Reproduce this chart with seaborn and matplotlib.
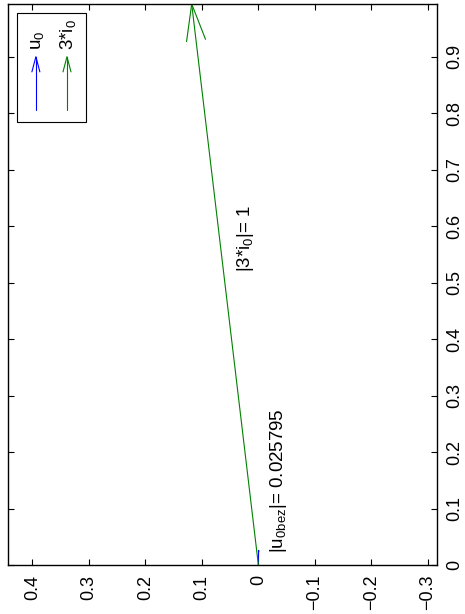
import numpy as np
import pandas as pd
import seaborn as sns
import matplotlib.pyplot as plt
from matplotlib.patches import Rectangle

# phasors (real part, imag part) - plot is printed rotated, real axis runs up
u0_vec = [0.0258, -0.0004]
i0_vec = [0.993, 0.118]
u0_abs = 0.025795
i0_abs = 1
names = ['u$_0$', '3*i$_0$']
colors = ['#0000ff', '#008000']

real_ticks = [0, 0.1, 0.2, 0.3, 0.4, 0.5, 0.6, 0.7, 0.8, 0.9]
imag_ticks = [0.4, 0.3, 0.2, 0.1, 0, -0.1, -0.2, -0.3]

sns.set_theme(style='ticks')
plt.rcParams['font.family'] = ['Liberation Sans', 'DejaVu Sans']
plt.rcParams['mathtext.fontset'] = 'custom'
plt.rcParams['mathtext.rm'] = 'Liberation Sans'
plt.rcParams['mathtext.it'] = 'Liberation Sans:italic'
plt.rcParams['mathtext.default'] = 'regular'

fig = plt.figure(figsize=(4.65, 6.14), dpi=100, facecolor='white')
ax = fig.add_axes([0.0172, 0.0798, 0.9226, 0.9137])

# quiver-like arrow, head scaled by vector length
alpha, beta = 0.065, 0.26
def arrow(vec, color):
    u, v = vec
    sns.lineplot(x=[0, v], y=[0, u], color=color, lw=0.8, ax=ax,
                 sort=False, estimator=None)
    hu = [u - alpha * (u + beta * v), u, u - alpha * (u - beta * v)]
    hv = [v - alpha * (v - beta * u), v, v - alpha * (v + beta * u)]
    sns.lineplot(x=hv, y=hu, color=color, lw=0.8, ax=ax,
                 sort=False, estimator=None)

arrow(u0_vec, colors[0])
arrow(i0_vec, colors[1])

ax.text(0.022, 0.519, '|3*i$_0$|= %g' % i0_abs, rotation=90,
        ha='center', va='bottom', fontsize=13.5, color='black')
ax.text(-0.035, 0.021, '|u$_{0bez}$|= %g' % u0_abs, rotation=90,
        ha='center', va='bottom', fontsize=13.5, color='black')

def fmt(t):
    return ('%g' % t).replace('-', '\u2212')

ax.set_xlim(0.443, -0.316)
ax.set_ylim(0, 0.993)
ax.set_xticks(imag_ticks)
ax.set_xticklabels([fmt(t) for t in imag_ticks], rotation=90)
ax.set_yticks(real_ticks)
ax.set_yticklabels([fmt(t) for t in real_ticks], rotation=90, va='center')
ax.yaxis.tick_right()
ax.tick_params(axis='both', direction='in', length=4, width=0.8,
               labelsize=13, pad=7, colors='black',
               top=True, bottom=True, left=True, right=True)
ax.tick_params(axis='y', labelleft=False, labelright=True)
for s in ax.spines.values():
    s.set_visible(True)
    s.set_linewidth(1.0)
    s.set_color('black')
ax.set_xlabel('')
ax.set_ylabel('')

# legend drawn by hand (rotated page)
ax.add_patch(Rectangle((0.021, 0.790), 0.161, 0.194, transform=ax.transAxes,
                       facecolor='white', edgecolor='black', lw=0.8, zorder=5))
for k, (name, c) in enumerate(zip(names, colors)):
    xc = 0.065 + k * 0.0725
    ax.plot([xc, xc], [0.811, 0.906], color=c, lw=0.8,
            transform=ax.transAxes, zorder=6)
    ax.plot([xc - 0.0093, xc, xc + 0.0093], [0.879, 0.906, 0.879], color=c,
            lw=0.8, transform=ax.transAxes, zorder=6)
    ax.text(xc + 0.003, 0.918, name, rotation=90, ha='center', va='bottom',
            fontsize=13.5, color='black', transform=ax.transAxes, zorder=6)

fig.savefig('out.png', dpi=100, facecolor='white')
